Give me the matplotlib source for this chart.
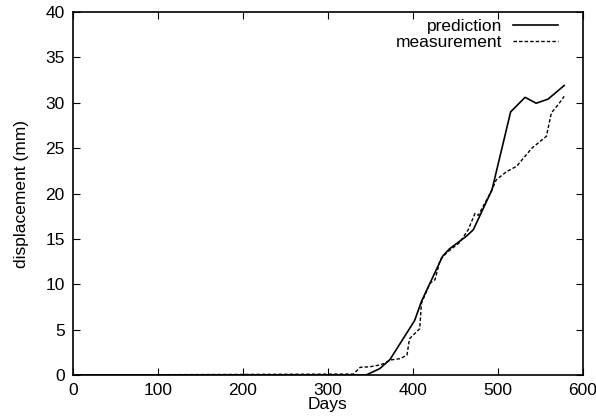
import numpy as np
import matplotlib
matplotlib.use('Agg')
import matplotlib.pyplot as plt

plt.rcParams['font.family'] = ['Liberation Sans', 'DejaVu Sans']

# prediction curve (solid)
pred_days = [0, 345, 361, 373, 402, 410, 418, 435, 443, 463, 471, 493, 515, 532, 545, 559, 578]
pred_disp = [0, 0, 0.7, 1.7, 6.0, 8.1, 9.7, 13.1, 13.9, 15.3, 16.0, 20.4, 29.0, 30.6, 29.95, 30.4, 31.9]

# measurement curve (dashed)
meas_days = [0, 330, 338, 349, 361, 367, 373, 385, 393, 396, 408, 410, 420, 426, 432, 440,
             455, 465, 473, 477, 493, 498, 510, 522, 540, 557, 563, 571, 578]
meas_disp = [0, 0.1, 0.85, 0.9, 1.1, 1.3, 1.65, 1.8, 2.2, 4.0, 5.1, 7.9, 10.1, 10.5, 12.7, 13.5,
             14.6, 16.0, 17.8, 17.6, 20.4, 21.5, 22.4, 23.0, 25.0, 26.3, 28.9, 29.8, 30.7]

fig = plt.figure(figsize=(5.96, 4.16), dpi=100)
ax = fig.add_axes([0.1225, 0.0986, 0.8555, 0.8725])

ax.plot(pred_days, pred_disp, color='black', lw=1.2, label='prediction')
ax.plot(meas_days, meas_disp, color='black', lw=1.0, ls=(0, (2.5, 1.5)), label='measurement')

ax.set_xlim(0, 600)
ax.set_ylim(0, 40)
ax.set_xticks(np.arange(0, 601, 100))
ax.set_yticks(np.arange(0, 41, 5))
ax.tick_params(direction='in', top=True, right=True, labelsize=12.5, length=5, pad=6)
for s in ax.spines.values():
    s.set_linewidth(1.2)

ax.set_xlabel('Days', fontsize=12.5, labelpad=-1)
ax.set_ylabel('displacement (mm)', fontsize=12.5, labelpad=12)

ax.legend(loc='upper right', bbox_to_anchor=(0.968, 1.005), frameon=False, markerfirst=False,
          fontsize=12.5, handlelength=2.6, borderaxespad=0.1, labelspacing=0.05, handletextpad=0.6)

fig.savefig('out.png', dpi=100)
